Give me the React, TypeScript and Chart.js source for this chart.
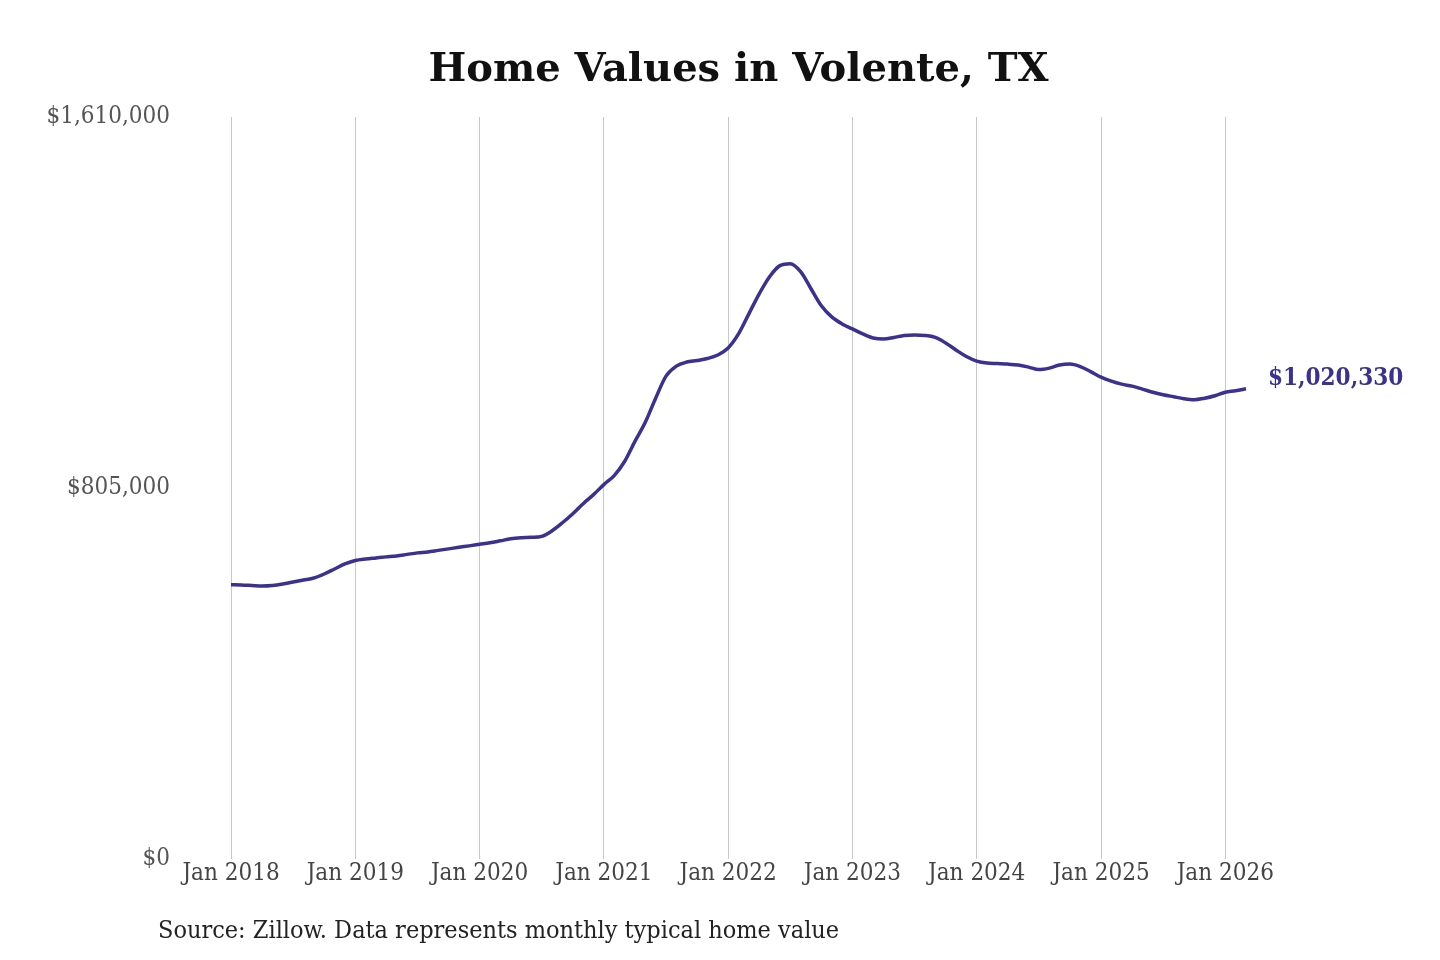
import React, { useEffect, useRef } from 'react'
import { Chart, registerables } from 'chart.js'

Chart.register(...registerables)

const MONTHS = ['Jan', 'Feb', 'Mar', 'Apr', 'May', 'Jun', 'Jul', 'Aug', 'Sep', 'Oct', 'Nov', 'Dec']
const START_YEAR = 2018

// monthly typical home value, Jan 2018 .. Mar 2026
const homeValues = [
  595400, 594800, 593700, 592600, 593700, 596900, 601300, 605600, 610000, 618700, 629600, 640500,
  648100, 651400, 653600, 655800, 657900, 661200, 664500, 666600, 669900, 673200, 676500, 679700,
  683000, 686300, 690600, 695000, 697200, 698200, 700400, 712400, 729800, 749400, 771200, 790800,
  812600, 832200, 862700, 906300, 947700, 1000000, 1047900, 1069700, 1078400, 1081700, 1086000, 1093700,
  1108900, 1139400, 1183000, 1226500, 1263600, 1287600, 1291900, 1274500, 1237400, 1200400, 1176400, 1161200,
  1150300, 1139400, 1130700, 1128500, 1131800, 1136100, 1137200, 1136100, 1131800, 1119800, 1104600, 1090400,
  1080600, 1076200, 1075100, 1074000, 1071900, 1067500, 1062100, 1065300, 1071900, 1074000, 1068600, 1057700,
  1045700, 1037000, 1030500, 1026100, 1019600, 1013000, 1007600, 1003200, 998900, 996700, 1000000, 1005400,
  1013000, 1016000, 1020330,
]

const monthLabels = homeValues.map(
  (_, i) => `${MONTHS[i % 12]} ${START_YEAR + Math.floor(i / 12)}`,
)

const yTickValues = [0, 805000, 1610000]

const TITLE = 'Home Values in Volente, TX'
const SOURCE = 'Source: Zillow. Data represents monthly typical home value'
const LINE_COLOR = '#3a3190'
const SERIF = "'DejaVu Serif', serif"
const SERIF_NARROW = "'DejaVu Serif Condensed', 'DejaVu Serif', serif"

const money = (v: number) => '$' + Math.round(v).toLocaleString('en-US')

const annotations = {
  id: 'annotations',
  afterDraw(chart: Chart) {
    const { ctx } = chart
    const x = chart.scales.x
    const y = chart.scales.y
    const last = homeValues.length - 1
    const px = x.getPixelForValue(last)
    const py = y.getPixelForValue(homeValues[last])
    ctx.save()
    ctx.font = `bold 24px ${SERIF_NARROW}`
    ctx.fillStyle = LINE_COLOR
    ctx.textAlign = 'left'
    ctx.textBaseline = 'middle'
    ctx.fillText(money(homeValues[last]), px + 22, py - 10)

    ctx.font = `25px ${SERIF_NARROW}`
    ctx.fillStyle = '#222'
    ctx.fillText(SOURCE, 158, 931)
    ctx.restore()
  },
}

export default function App() {
  const ref = useRef<HTMLCanvasElement | null>(null)

  useEffect(() => {
    document.body.style.margin = '0'
    if (!ref.current) return
    const chart = new Chart(ref.current, {
      type: 'line',
      data: {
        labels: monthLabels,
        datasets: [
          {
            label: 'Home value',
            data: homeValues,
            borderColor: LINE_COLOR,
            borderWidth: 3.5,
            pointRadius: 0,
            cubicInterpolationMode: 'monotone',
            fill: false,
          },
        ],
      },
      options: {
        responsive: false,
        animation: false,
        layout: { padding: { top: 10, left: 47, right: 194, bottom: 72 } },
        plugins: {
          legend: { display: false },
          tooltip: { enabled: false },
          title: {
            display: true,
            text: TITLE,
            fullSize: false,
            color: '#111',
            font: { family: SERIF, size: 40, weight: 'bold' },
            padding: { top: 37, bottom: 22 },
          },
        },
        scales: {
          x: {
            offset: false,
            border: { display: false },
            grid: { color: '#c8c8c8', lineWidth: 1, drawTicks: false },
            ticks: {
              autoSkip: false,
              maxRotation: 0,
              padding: 0,
              color: '#444',
              font: { family: SERIF_NARROW, size: 24 },
              callback: (_v, i) => (i % 12 === 0 ? monthLabels[i] : null),
            },
          },
          y: {
            min: 0,
            max: 1610000,
            border: { display: false },
            grid: { display: false, drawTicks: false },
            afterBuildTicks: (axis) => {
              axis.ticks = yTickValues.map((value) => ({ value }))
            },
            afterFit: (axis) => {
              axis.width = 184
            },
            ticks: {
              padding: 61,
              color: '#555',
              font: { family: SERIF_NARROW, size: 24 },
              callback: (v) => money(Number(v)),
            },
          },
        },
      },
      plugins: [annotations],
    })
    return () => chart.destroy()
  }, [])

  return (
    <div style={{ width: 1440, height: 960, background: '#fff' }}>
      <canvas ref={ref} width={1440} height={960} />
    </div>
  )
}
